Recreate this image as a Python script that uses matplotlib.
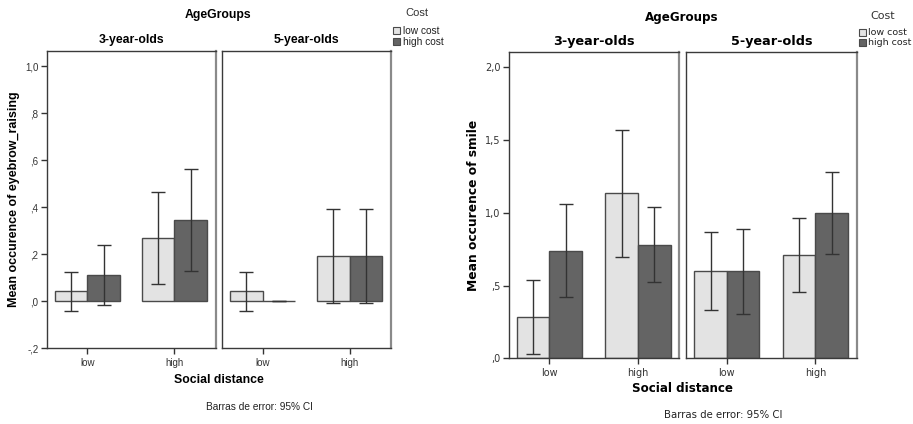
import matplotlib
matplotlib.use("Agg")
import matplotlib.pyplot as plt
from matplotlib.patches import Rectangle

# ---- data -------------------------------------------------------------
categories = ["low", "high"]           # Social distance
age_groups = ["3-year-olds", "5-year-olds"]
cost_levels = ["low cost", "high cost"]

# Eyebrow raising: means and 95% CI bounds, per age group, per social distance
eyebrow_low_cost_mean = [[0.042, 0.268], [0.042, 0.194]]
eyebrow_low_cost_lo = [[-0.041, 0.072], [-0.041, -0.006]]
eyebrow_low_cost_hi = [[0.125, 0.464], [0.125, 0.394]]
eyebrow_high_cost_mean = [[0.111, 0.345], [0.0, 0.194]]
eyebrow_high_cost_lo = [[-0.016, 0.128], [0.0, -0.006]]
eyebrow_high_cost_hi = [[0.240, 0.563], [0.0, 0.394]]
eyebrow_yticks = [-0.2, 0.0, 0.2, 0.4, 0.6, 0.8, 1.0]
eyebrow_yticklabels = ["-,2", ",0", ",2", ",4", ",6", ",8", "1,0"]

# Smile: means and 95% CI bounds
smile_low_cost_mean = [[0.282, 1.133], [0.602, 0.709]]
smile_low_cost_lo = [[0.027, 0.696], [0.334, 0.455]]
smile_low_cost_hi = [[0.536, 1.568], [0.865, 0.961]]
smile_high_cost_mean = [[0.739, 0.780], [0.602, 1.0]]
smile_high_cost_lo = [[0.419, 0.526], [0.306, 0.716]]
smile_high_cost_hi = [[1.062, 1.037], [0.890, 1.282]]
smile_yticks = [0.0, 0.5, 1.0, 1.5, 2.0]
smile_yticklabels = [",0", ",5", "1,0", "1,5", "2,0"]

LIGHT = "#e3e3e3"
DARK = "#646464"
EDGE = "#4a4a4a"

W, H = 913, 424
fig = plt.figure(figsize=(W / 100, H / 100), dpi=100)


def rect(x0, y0, x1, y1):
    return [x0 / W, 1 - y1 / H, (x1 - x0) / W, (y1 - y0) / H]


def ftext(x, y, s, **kw):
    fig.text(x / W, 1 - y / H, s, **kw)


def draw_chart(panels, ytop, ybot, ylim, xlim, bw, means, los, his,
               yticks, yticklabels, font, tick_fs):
    axes = []
    for i, (x0, x1) in enumerate(panels):
        ax = fig.add_axes(rect(x0, ytop, x1, ybot))
        xs = list(range(len(categories)))
        for j, (fill, m, lo, hi) in enumerate(zip([LIGHT, DARK], means, los, his)):
            pos = [x + (j - 0.5) * bw for x in xs]
            ax.bar(pos, m[i], width=bw, color=fill, edgecolor=EDGE,
                   linewidth=1.0, zorder=2)
            err = [[mv - l for mv, l in zip(m[i], lo[i])],
                   [h - mv for mv, h in zip(m[i], hi[i])]]
            ax.errorbar(pos, m[i], yerr=err, fmt="none",
                        ecolor="#333333", elinewidth=1.0, capsize=5,
                        capthick=1.0, zorder=3)
        ax.set_xlim(*xlim)
        ax.set_ylim(*ylim)
        ax.set_xticks(xs)
        ax.set_xticklabels(categories, fontsize=tick_fs, color="#333333",
                           family=font)
        ax.tick_params(axis="x", length=4, width=1, color="#333333", pad=3)
        for sp in ax.spines.values():
            sp.set_color("#3a3a3a")
            sp.set_linewidth(1.0)
        ax.spines["right"].set_color("#8a8a8a")
        ax.spines["right"].set_linewidth(1.6)
        if i == 0:
            ax.set_yticks(yticks)
            ax.set_yticklabels(yticklabels, fontsize=tick_fs,
                               color="#333333", family=font)
            ax.tick_params(axis="y", length=4, width=1, color="#333333", pad=2)
        else:
            ax.set_yticks([])
        axes.append(ax)
    return axes


# ---- left chart: eyebrow raising ----------------------------------------
lf = "Liberation Sans"
lp = [(46.7, 215.7), (222.0, 391.0)]
draw_chart(lp, 50.7, 348.3, (-0.2, 1.066), (-0.467, 1.476), 0.374,
           [eyebrow_low_cost_mean, eyebrow_high_cost_mean],
           [eyebrow_low_cost_lo, eyebrow_high_cost_lo],
           [eyebrow_low_cost_hi, eyebrow_high_cost_hi],
           eyebrow_yticks, eyebrow_yticklabels, lf, 7)
ftext(218, 15, "AgeGroups", ha="center", va="center", fontsize=8.8,
      fontweight="bold", family=lf)
for (x0, x1), g in zip(lp, age_groups):
    ftext((x0 + x1) / 2, 40, g, ha="center", va="center", fontsize=8.8,
          fontweight="bold", family=lf)
ftext(14, 199.5, "Mean occurence of eyebrow_raising", rotation=90,
      ha="center", va="center", fontsize=9, fontweight="bold", family=lf)
ftext(219, 380, "Social distance", ha="center", va="center", fontsize=8.8,
      fontweight="bold", family=lf)
ftext(259, 407, "Barras de error: 95% CI", ha="center", va="center",
      fontsize=7.3, color="#222222", family=lf)
ftext(417, 13.5, "Cost", ha="center", va="center", fontsize=8, color="#333333",
      family=lf)
for k, (lab, fill) in enumerate(zip(cost_levels, [LIGHT, DARK])):
    yc = 30.7 + k * 11
    fig.patches.append(Rectangle((393 / W, 1 - (yc + 3.5) / H), 7 / W, 7 / H,
                                 transform=fig.transFigure, facecolor=fill,
                                 edgecolor=EDGE, linewidth=0.8))
    ftext(403, yc, lab, ha="left", va="center", fontsize=7.3, color="#222222",
          family=lf)

# ---- right chart: smile -------------------------------------------------
rf = "DejaVu Sans"
rp = [(508.7, 679.3), (686.3, 856.7)]
draw_chart(rp, 52.0, 358.3, (0.0, 2.104), (-0.458, 1.466), 0.367,
           [smile_low_cost_mean, smile_high_cost_mean],
           [smile_low_cost_lo, smile_high_cost_lo],
           [smile_low_cost_hi, smile_high_cost_hi],
           smile_yticks, smile_yticklabels, rf, 7)
ftext(682, 17, "AgeGroups", ha="center", va="center", fontsize=8.6,
      fontweight="bold", family=rf)
for (x0, x1), g in zip(rp, age_groups):
    ftext((x0 + x1) / 2, 42, g, ha="center", va="center", fontsize=9.2,
          fontweight="bold", family=rf)
ftext(473, 205, "Mean occurence of smile", rotation=90,
      ha="center", va="center", fontsize=8.8, fontweight="bold", family=rf)
ftext(682, 388, "Social distance", ha="center", va="center", fontsize=8.6,
      fontweight="bold", family=rf)
ftext(723, 415, "Barras de error: 95% CI", ha="center", va="center",
      fontsize=7.3, color="#222222", family=rf)
ftext(883, 16, "Cost", ha="center", va="center", fontsize=8,
      color="#333333", family=rf)
for k, (lab, fill) in enumerate(zip(cost_levels, [LIGHT, DARK])):
    yc = 32.7 + k * 10
    fig.patches.append(Rectangle((859 / W, 1 - (yc + 3.5) / H), 7 / W, 7 / H,
                                 transform=fig.transFigure, facecolor=fill,
                                 edgecolor=EDGE, linewidth=0.8))
    ftext(868, yc, lab, ha="left", va="center", fontsize=6.8, color="#222222",
          family=rf)

fig.savefig("out.png", dpi=100)
